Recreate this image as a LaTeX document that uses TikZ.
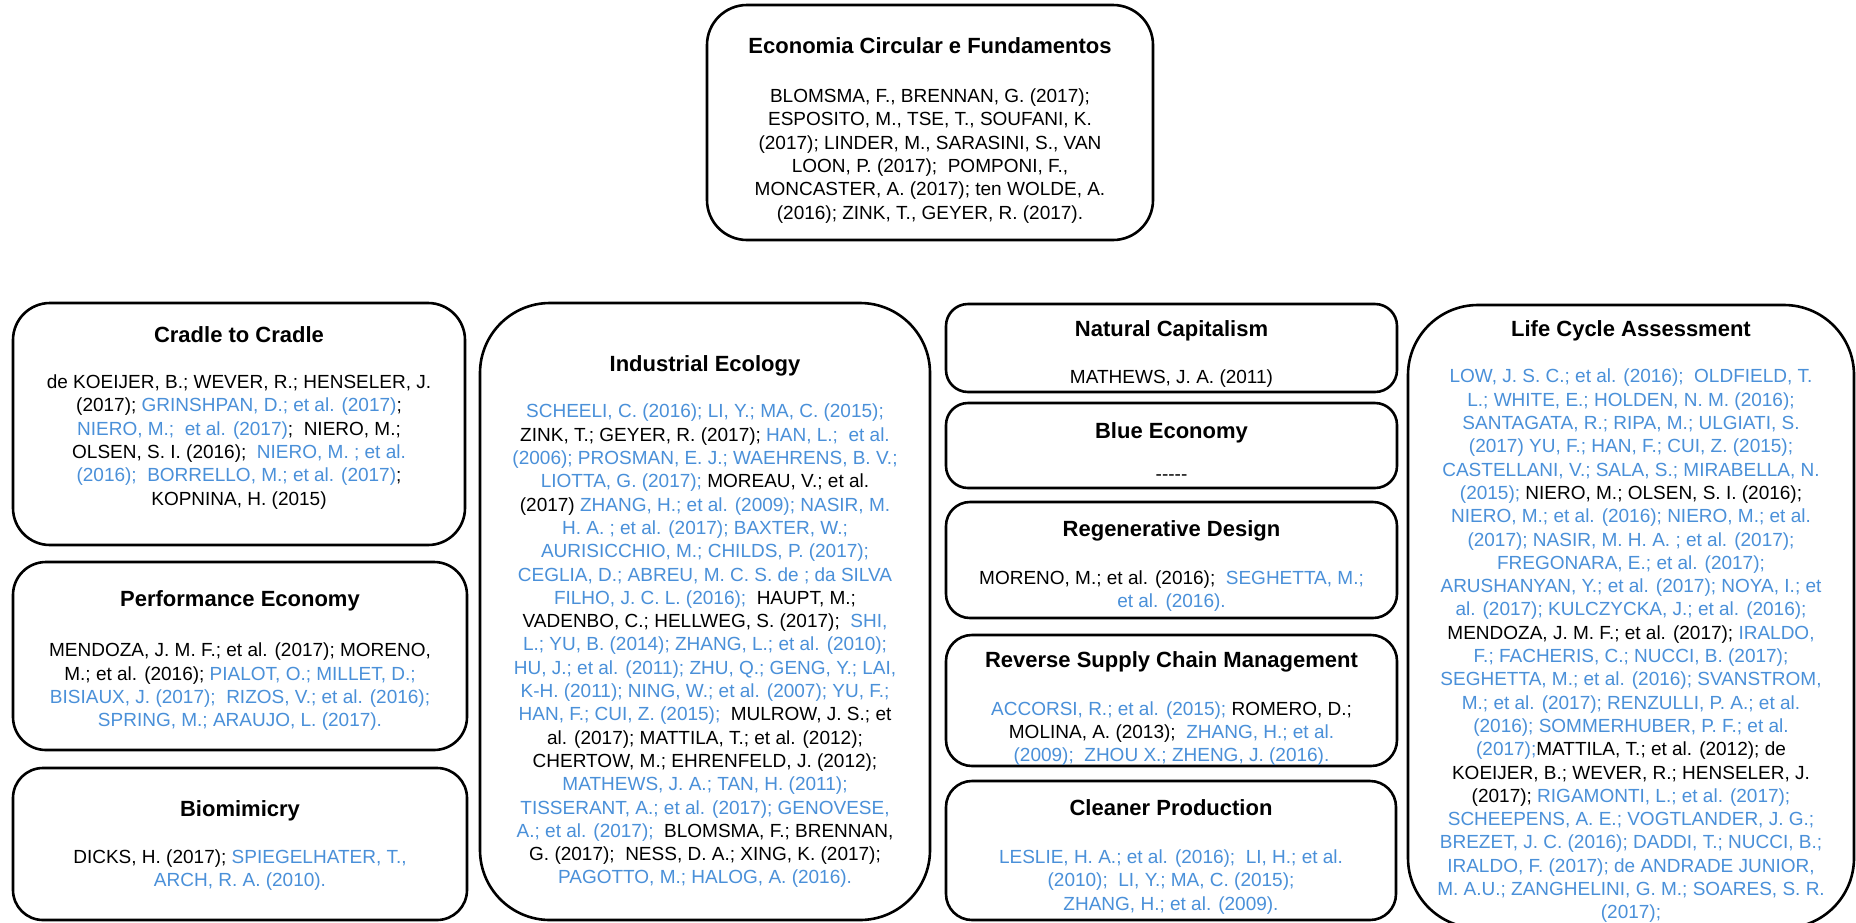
\documentclass[tikz,border=0pt]{standalone}
\usepackage{fontspec}
\setmainfont{Liberation Sans}
\usepackage{tikz}
\definecolor{refblue}{RGB}{74,144,217}
\newcommand{\bl}[1]{{\color{refblue}#1}}

\begin{document}
\begin{tikzpicture}[x=1pt,y=-1pt,
	box/.style={draw=black,line width=2.6pt,fill=white,inner sep=0pt},
	ttl/.style={align=center,inner sep=0pt,text height=16pt,text depth=0pt,font=\fontsize{22}{26}\selectfont\bfseries},
	refs/.style={align=center,inner sep=0pt,font=\fontsize{19}{23.3}\selectfont}]
		\useasboundingbox (0,0) rectangle (1856,922);

		% boxes
		\node[box,minimum width=446pt,minimum height=235pt,rounded corners=40pt] (ec) at (930,122.5) {};
		\node[box,minimum width=452pt,minimum height=242pt,rounded corners=37pt] (c2c) at (239,424) {};
		\node[box,minimum width=454pt,minimum height=188pt,rounded corners=33pt] (pe) at (240,656) {};
		\node[box,minimum width=454pt,minimum height=152pt,rounded corners=30pt] (bio) at (240,844) {};
		\node[box,minimum width=450pt,minimum height=617pt,rounded corners=70pt] (ie) at (705,611.5) {};
		\node[box,minimum width=451pt,minimum height=88pt,rounded corners=22pt] (nc) at (1171.5,348) {};
		\node[box,minimum width=451pt,minimum height=85pt,rounded corners=22pt] (be) at (1171.5,445.5) {};
		\node[box,minimum width=451pt,minimum height=116pt,rounded corners=24pt] (rd) at (1171.5,560) {};
		\node[box,minimum width=451pt,minimum height=131pt,rounded corners=26pt] (rscm) at (1171.5,700.5) {};
		\node[box,minimum width=450pt,minimum height=139pt,rounded corners=26pt] (cp) at (1171,850.5) {};
		\node[box,minimum width=446pt,minimum height=623pt,rounded corners=70pt] (lca) at (1631,616.5) {};

		% titles
		\node[ttl] (ectitle) at (930,45) {Economia Circular e Fundamentos};
		\node[ttl] (c2ctitle) at (239,334) {Cradle to Cradle};
		\node[ttl] (petitle) at (240,598) {Performance Economy};
		\node[ttl] (biotitle) at (240,808) {Biomimicry};
		\node[ttl] (ietitle) at (705,363) {Industrial Ecology};
		\node[ttl] (nctitle) at (1171.5,328) {Natural Capitalism};
		\node[ttl] (betitle) at (1171.5,430) {Blue Economy};
		\node[ttl] (rdtitle) at (1171.5,528) {Regenerative Design};
		\node[ttl] (rscmtitle) at (1171.5,659) {Reverse Supply Chain Management};
		\node[ttl] (cptitle) at (1171,807) {Cleaner Production};
		\node[ttl] (lcatitle) at (1631,328) {Life Cycle Assessment};

		% references
		\node[refs] (ecrefs) at (930,156) {BLOMSMA, F., BRENNAN, G. (2017);\\
			ESPOSITO, M., TSE, T., SOUFANI, K.\\
			(2017); LINDER, M., SARASINI, S., VAN\\
			LOON, P. (2017);\ \ POMPONI, F.,\\
			MONCASTER, A. (2017); ten WOLDE, A.\\
			(2016); ZINK, T., GEYER, R. (2017).};
		\node[refs] (c2crefs) at (239,442) {de KOEIJER, B.; WEVER, R.; HENSELER, J.\\
			(2017); \bl{GRINSHPAN, D.; et al. (2017)};\\
			\bl{NIERO, M.;\ \ et al. (2017)};\ \ NIERO, M.;\\
			OLSEN, S. I. (2016);\ \ \bl{NIERO, M. ; et al.}\\
			\bl{(2016);\ \ BORRELLO, M.; et al. (2017)};\\
			KOPNINA, H. (2015)};
		\node[refs] (perefs) at (240,687) {MENDOZA, J. M. F.; et al. (2017); MORENO,\\
			M.; et al. (2016); \bl{PIALOT, O.; MILLET, D.;}\\
			\bl{BISIAUX, J. (2017);\ \ RIZOS, V.; et al. (2016);}\\
			\bl{SPRING, M.; ARAUJO, L. (2017).}};
		\node[refs] (biorefs) at (240,870) {DICKS, H. (2017); \bl{SPIEGELHATER, T.,}\\
			\bl{ARCH, R. A. (2010).}};
		\node[refs] (ierefs) at (705,646) {\bl{SCHEELI, C. (2016); LI, Y.; MA, C. (2015);}\\
			ZINK, T.; GEYER, R. (2017); \bl{HAN, L.;\ \ et al.}\\
			\bl{(2006); PROSMAN, E. J.; WAEHRENS, B. V.;}\\
			\bl{LIOTTA, G. (2017);} MOREAU, V.; et al.\\
			(2017) \bl{ZHANG, H.; et al. (2009); NASIR, M.}\\
			\bl{H. A. ; et al. (2017); BAXTER, W.;}\\
			\bl{AURISICCHIO, M.; CHILDS, P. (2017);}\\
			\bl{CEGLIA, D.; ABREU, M. C. S. de ; da SILVA}\\
			\bl{FILHO, J. C. L. (2016);}\ \ HAUPT, M.;\\
			VADENBO, C.; HELLWEG, S. (2017);\ \ \bl{SHI,}\\
			\bl{L.; YU, B. (2014); ZHANG, L.; et al. (2010);}\\
			\bl{HU, J.; et al. (2011); ZHU, Q.; GENG, Y.; LAI,}\\
			\bl{K-H. (2011); NING, W.; et al. (2007); YU, F.;}\\
			\bl{HAN, F.; CUI, Z. (2015);}\ \ MULROW, J. S.; et\\
			al. (2017); MATTILA, T.; et al. (2012);\\
			CHERTOW, M.; EHRENFELD, J. (2012);\\
			\bl{MATHEWS, J. A.; TAN, H. (2011);}\\
			\bl{TISSERANT, A.; et al. (2017); GENOVESE,}\\
			\bl{A.; et al. (2017);}\ \ BLOMSMA, F.; BRENNAN,\\
			G. (2017);\ \ NESS, D. A.; XING, K. (2017);\\
			\bl{PAGOTTO, M.; HALOG, A. (2016).}};
		\node[refs] (ncrefs) at (1171.5,379) {MATHEWS, J. A. (2011)};
		\node[refs] (berefs) at (1171.5,478) {-{}-{}-{}-{}-};
		\node[refs] (rdrefs) at (1171.5,591) {MORENO, M.; et al. (2016);\ \ \bl{SEGHETTA, M.;}\\
			\bl{et al. (2016).}};
		\node[refs] (rscmrefs) at (1171.5,733.5) {\bl{ACCORSI, R.; et al. (2015);} ROMERO, D.;\\
			MOLINA, A. (2013);\ \ \bl{ZHANG, H.; et al.}\\
			\bl{(2009);\ \ ZHOU X.; ZHENG, J. (2016).}};
		\node[refs] (cprefs) at (1171,882) {\bl{LESLIE, H. A.; et al. (2016);\ \ LI, H.; et al.}\\
			\bl{(2010);\ \ LI, Y.; MA, C. (2015);}\\
			\bl{ZHANG, H.; et al. (2009).}};
		\node[refs] (lcarefs) at (1631,646) {\bl{LOW, J. S. C.; et al. (2016);\ \ OLDFIELD, T.}\\
			\bl{L.; WHITE, E.; HOLDEN, N. M. (2016);}\\
			\bl{SANTAGATA, R.; RIPA, M.; ULGIATI, S.}\\
			\bl{(2017) YU, F.; HAN, F.; CUI, Z. (2015);}\\
			\bl{CASTELLANI, V.; SALA, S.; MIRABELLA, N.}\\
			\bl{(2015);} NIERO, M.; OLSEN, S. I. (2016);\\
			\bl{NIERO, M.; et al. (2016); NIERO, M.; et al.}\\
			\bl{(2017); NASIR, M. H. A. ; et al. (2017);}\\
			\bl{FREGONARA, E.; et al. (2017);}\\
			\bl{ARUSHANYAN, Y.; et al. (2017); NOYA, I.; et}\\
			\bl{al. (2017); KULCZYCKA, J.; et al. (2016);}\\
			MENDOZA, J. M. F.; et al. (2017); \bl{IRALDO,}\\
			\bl{F.; FACHERIS, C.; NUCCI, B. (2017);}\\
			\bl{SEGHETTA, M.; et al. (2016); SVANSTROM,}\\
			\bl{M.; et al. (2017); RENZULLI, P. A.; et al.}\\
			\bl{(2016); SOMMERHUBER, P. F.; et al.}\\
			\bl{(2017);}MATTILA, T.; et al. (2012); de\\
			KOEIJER, B.; WEVER, R.; HENSELER, J.\\
			(2017); \bl{RIGAMONTI, L.; et al. (2017);}\\
			\bl{SCHEEPENS, A. E.; VOGTLANDER, J. G.;}\\
			\bl{BREZET, J. C. (2016); DADDI, T.; NUCCI, B.;}\\
			\bl{IRALDO, F. (2017); de ANDRADE JUNIOR,}\\
			\bl{M. A.U.; ZANGHELINI, G. M.; SOARES, S. R.}\\
			\bl{(2017);}};
	\end{tikzpicture}
\end{document}
